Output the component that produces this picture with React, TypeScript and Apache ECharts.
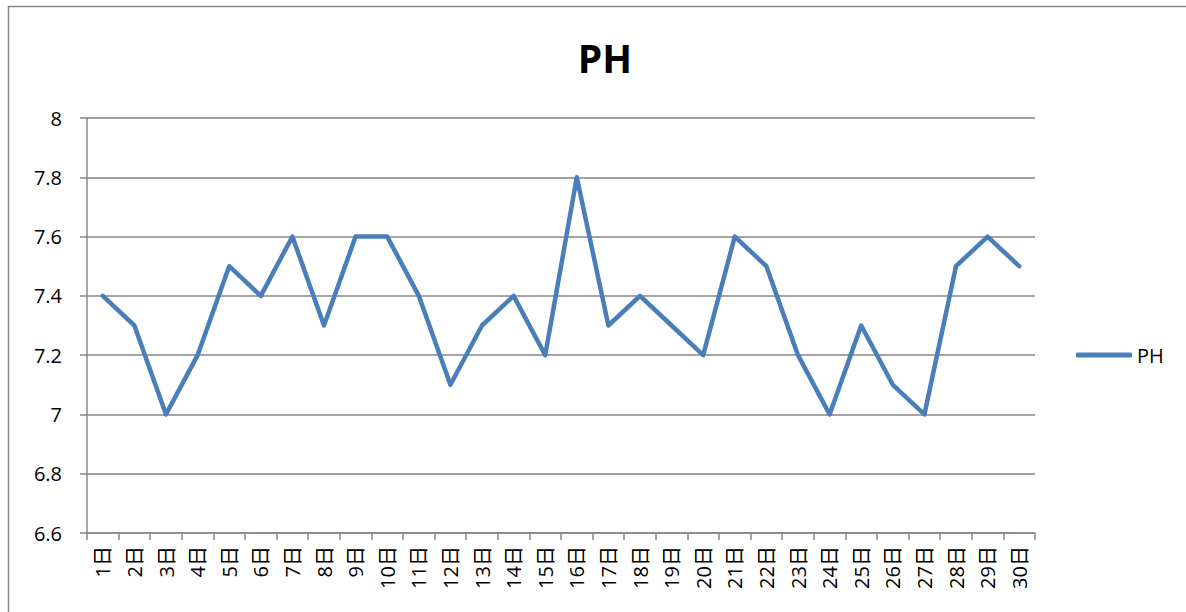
import React, { useEffect, useRef } from "react";
import * as echarts from "echarts";

const categories = Array.from({ length: 30 }, (_, i) => `${i + 1}日`);
const phValues = [7.4, 7.3, 7.0, 7.2, 7.5, 7.4, 7.6, 7.3, 7.6, 7.6, 7.4, 7.1, 7.3, 7.4, 7.2, 7.8, 7.3, 7.4, 7.3, 7.2, 7.6, 7.5, 7.2, 7.0, 7.3, 7.1, 7.0, 7.5, 7.6, 7.5];
const seriesName = "PH";
const titleText = "PH";

export default function App() {
  const ref = useRef<HTMLDivElement>(null);
  useEffect(() => {
    if (!ref.current) return;
    const chart = echarts.init(ref.current, null, { renderer: "svg" });
    const font = "'Open Sans', 'Noto Sans', 'Noto Sans CJK SC', sans-serif";
    chart.setOption({
      animation: false,
      backgroundColor: "#ffffff",
      title: {
        text: titleText,
        left: 600,
        top: 33,
        textAlign: "center",
        textStyle: { fontFamily: font, fontSize: 39, fontWeight: "bold", color: "#000" },
      },
      legend: {
        data: [seriesName],
        left: 1071,
        top: 340,
        itemWidth: 56,
        itemHeight: 5,
        itemGap: 4,
        icon: "roundRect",
        textStyle: { fontFamily: font, fontSize: 20, color: "#000" },
      },
      grid: { left: 87, right: 151, top: 118, bottom: 79, containLabel: false },
      xAxis: {
        type: "category",
        data: categories,
        boundaryGap: true,
        axisLine: { lineStyle: { color: "#868686", width: 1.5 } },
        axisTick: { show: true, length: 7, alignWithLabel: false, lineStyle: { color: "#868686", width: 1.5 } },
        axisLabel: {
          rotate: 90,
          interval: 0,
          margin: 13,
          fontFamily: font,
          fontSize: 20,
          color: "#000",
        },
      },
      yAxis: {
        type: "value",
        min: 6.6,
        max: 8,
        interval: 0.2,
        axisLine: { show: true, lineStyle: { color: "#868686", width: 1.5 } },
        axisTick: { show: true, length: 7, lineStyle: { color: "#868686", width: 1.5 } },
        splitLine: { show: true, lineStyle: { color: "#868686", width: 1.5 } },
        axisLabel: {
          margin: 25,
          fontFamily: font,
          fontSize: 20,
          color: "#000",
          formatter: (v: number) => String(Math.round(v * 10) / 10),
        },
      },
      series: [
        {
          name: seriesName,
          type: "line",
          data: phValues,
          symbol: "none",
          lineStyle: { color: "#4a7ebb", width: 4.5, join: "round", cap: "round" },
          itemStyle: { color: "#4a7ebb" },
        },
      ],
      graphic: [
        {
          type: "rect",
          shape: { x: 8.5, y: 6.5, width: 1300, height: 800 },
          style: { fill: "none", stroke: "#878787", lineWidth: 1.5 },
          silent: true,
          z: 100,
        },
      ],
    });
    return () => chart.dispose();
  }, []);
  return (
    <div
      ref={ref}
      style={{ position: "fixed", left: 0, top: 0, width: 1186, height: 612 }}
    />
  );
}
